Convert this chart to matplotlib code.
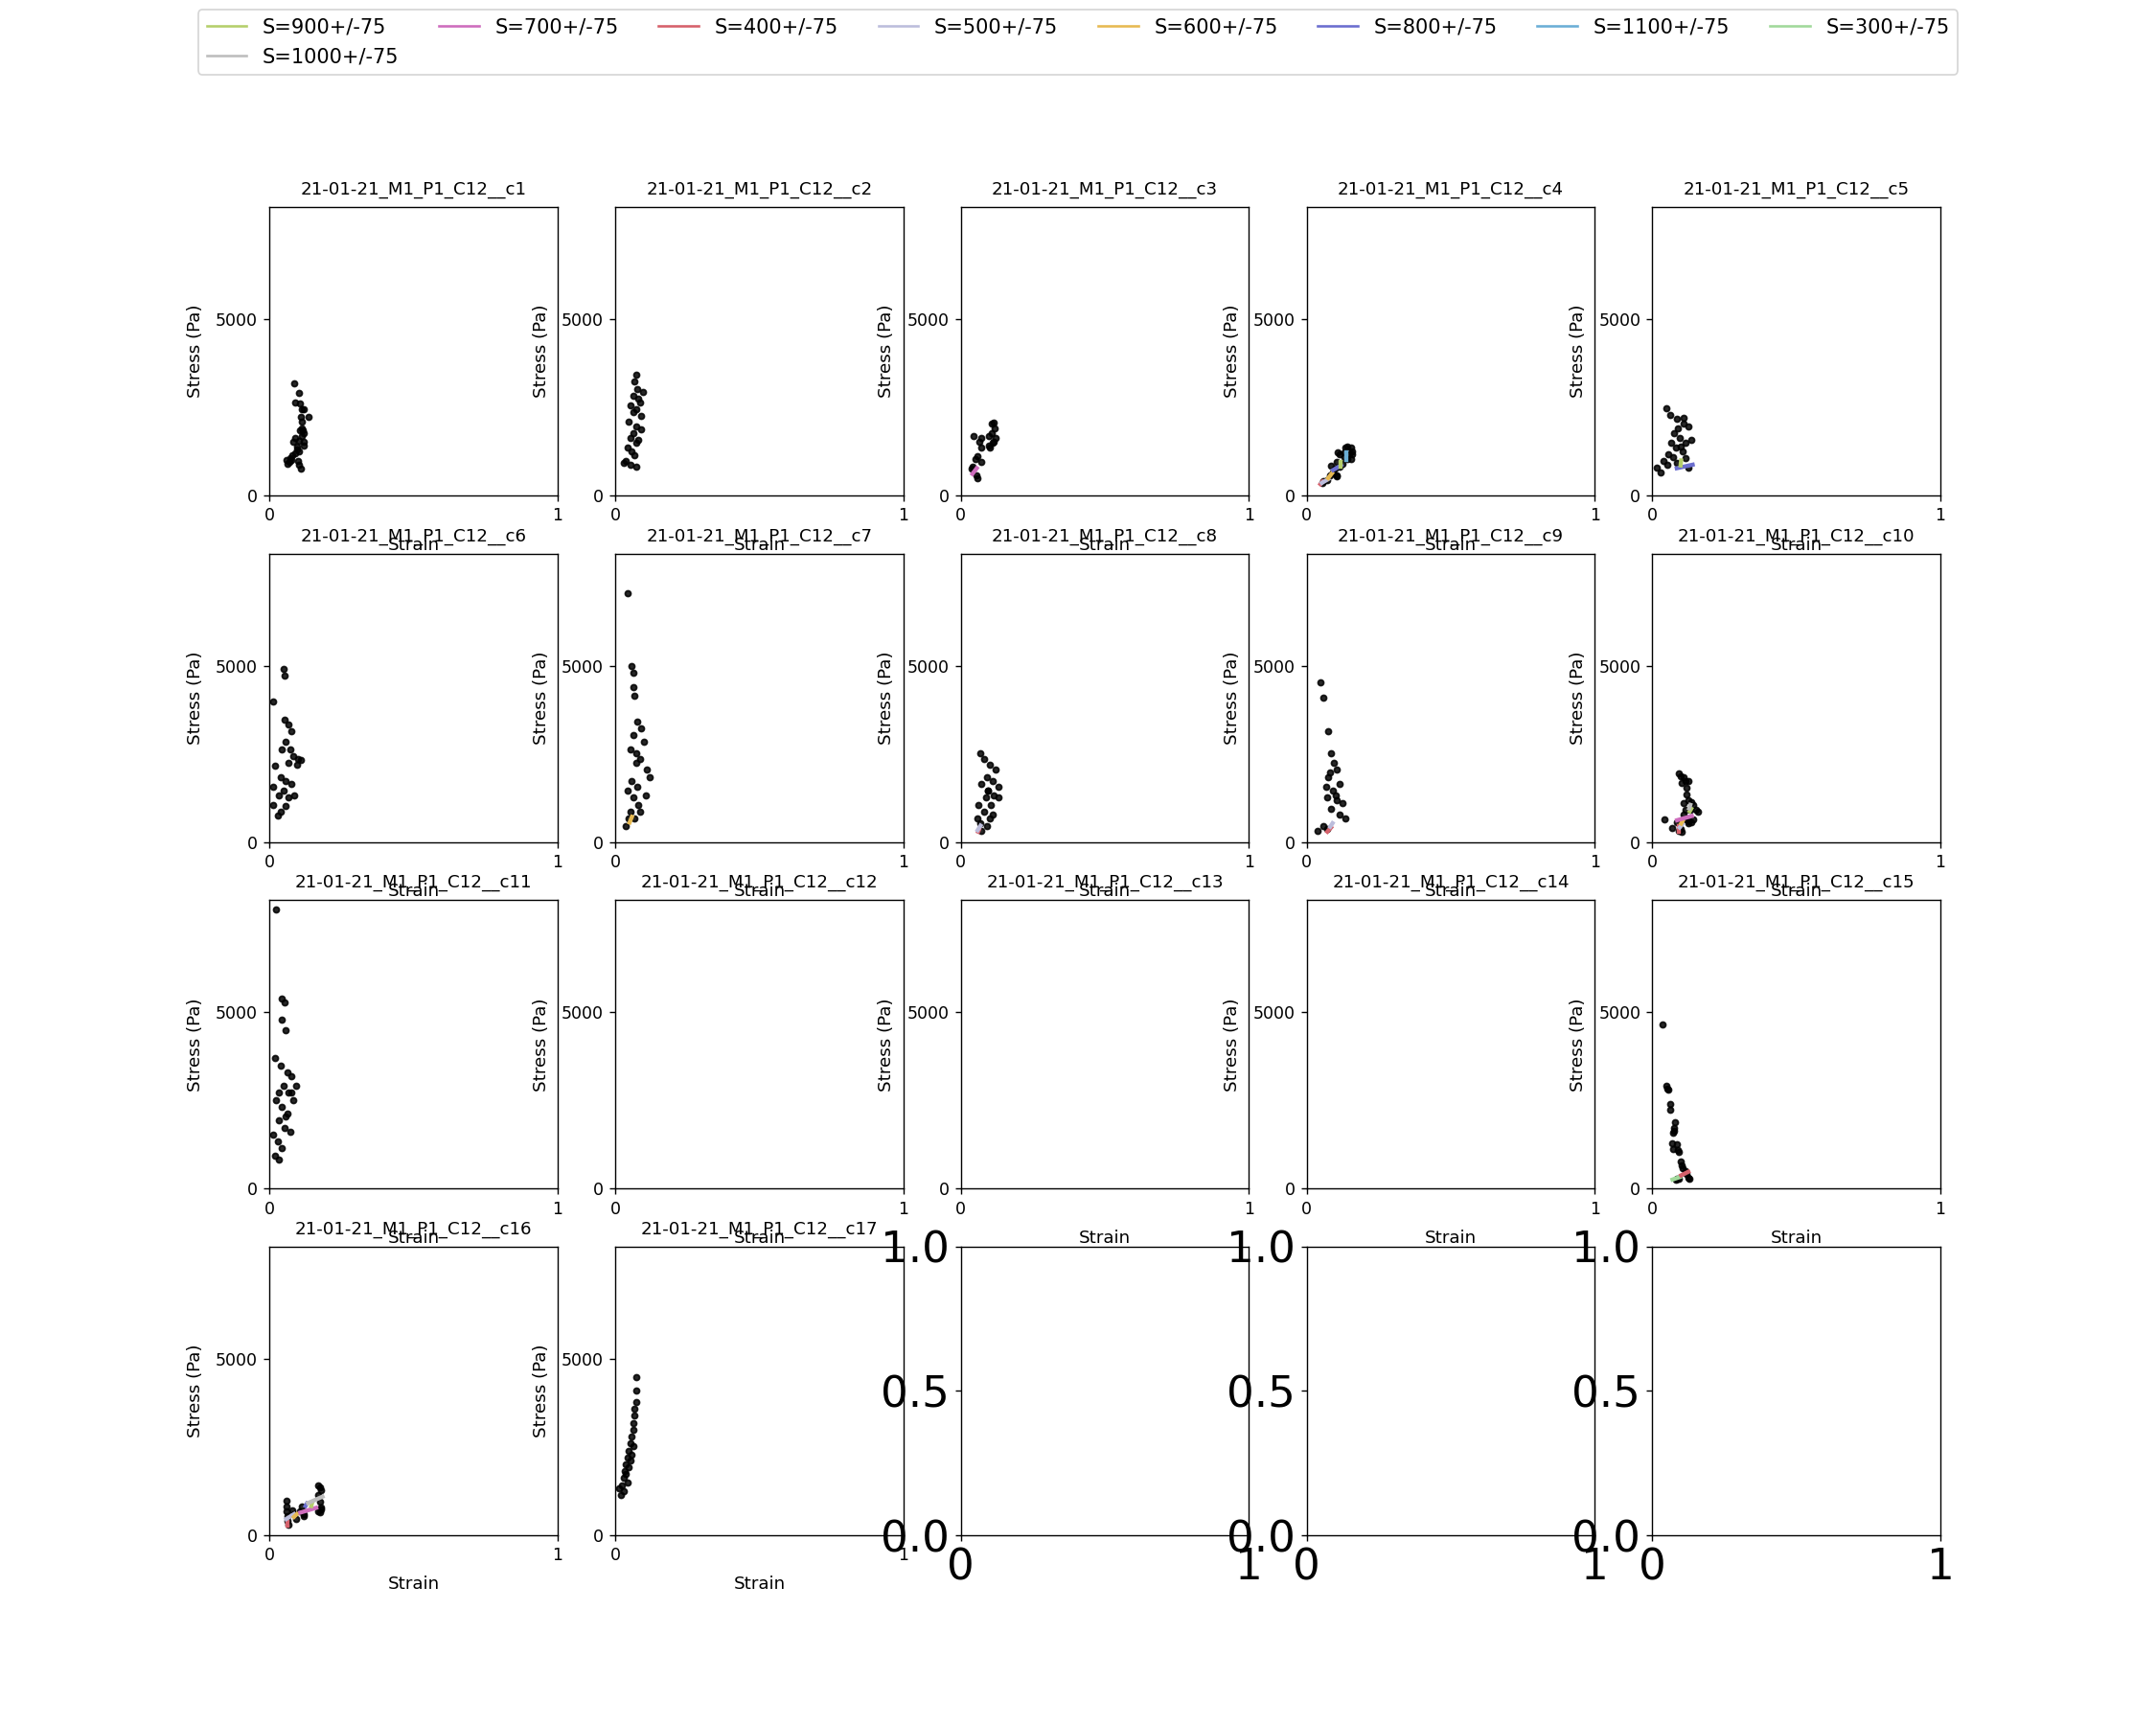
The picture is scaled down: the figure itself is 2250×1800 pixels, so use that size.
import matplotlib
matplotlib.use("Agg")
import matplotlib.pyplot as plt
from matplotlib.lines import Line2D

# stress levels used for the local fits (legend order as in the original)
levels = [900, 1000, 700, 400, 500, 600, 800, 1100, 300]
level_colors = {900: '#b5cf6b', 700: '#ce6dbd', 400: '#d6616b', 500: '#bcbddc',
                600: '#e7ba52', 800: '#6b6ecf', 1100: '#6baed6', 300: '#a1d99b',
                1000: '#bdbdbd'}

cell_names = ['21-01-21_M1_P1_C12__c%d' % i for i in range(1, 18)]

strain_c1 = [0.087, 0.101, 0.090, 0.107, 0.112, 0.120, 0.137, 0.110, 0.112, 0.104, 0.115, 0.120, 0.112, 0.090, 0.101, 0.083,
             0.118, 0.120, 0.094, 0.101, 0.090, 0.058, 0.072, 0.064, 0.075, 0.100, 0.103, 0.108, 0.080, 0.068, 0.095, 0.113]
stress_c1 = [3195, 2904, 2632, 2613, 2450, 2450, 2243, 2230, 2100, 1860, 1860, 1780, 1700, 1650, 1560, 1540,
             1530, 1410, 1390, 1250, 1200, 1000, 1080, 900, 1020, 990, 880, 770, 1150, 950, 1300, 1900]

strain_c2 = [0.072, 0.067, 0.076, 0.062, 0.081, 0.053, 0.072, 0.062, 0.090, 0.048, 0.072, 0.062, 0.053, 0.072, 0.043,
             0.057, 0.067, 0.038, 0.053, 0.072, 0.081, 0.090, 0.029, 0.086, 0.095]
stress_c2 = [3430, 3230, 3030, 2840, 2760, 2560, 2440, 2360, 2250, 2090, 1970, 1770, 1650, 1500, 1380,
             1260, 1140, 985, 870, 830, 1580, 1890, 945, 2640, 2950]

strain_c3 = [0.044, 0.071, 0.063, 0.069, 0.058, 0.052, 0.041, 0.036, 0.055, 0.058, 0.071, 0.096, 0.107, 0.113, 0.107,
             0.118, 0.122, 0.115, 0.102, 0.111, 0.096]
stress_c3 = [1697, 1634, 1517, 1362, 1135, 1045, 818, 772, 590, 500, 953, 1706, 1770, 2078, 2042,
             1906, 1634, 1525, 1362, 1498, 1408]

strain_c4 = [0.053, 0.059, 0.070, 0.081, 0.092, 0.103, 0.098, 0.086, 0.103, 0.114, 0.125, 0.114, 0.109, 0.131, 0.136,
             0.142, 0.153, 0.158, 0.147, 0.153, 0.142, 0.131, 0.158, 0.103]
stress_c4 = [364, 409, 454, 590, 653, 590, 771, 862, 952, 816, 907, 1179, 1225, 1225, 1361,
             1407, 1361, 1270, 1179, 1043, 1043, 1089, 1179, 544]

strain_c5 = [0.048, 0.062, 0.086, 0.110, 0.124, 0.076, 0.095, 0.115, 0.134, 0.081, 0.105, 0.057, 0.038, 0.014, 0.029,
             0.053, 0.086, 0.124, 0.115, 0.072, 0.090, 0.100, 0.067, 0.110]
stress_c5 = [2480, 2285, 2170, 2050, 1970, 1770, 1650, 1500, 1580, 1380, 1260, 1180, 985, 790, 670,
             870, 945, 790, 1060, 1100, 1900, 1400, 1500, 2200]

strain_c6 = [0.014, 0.048, 0.053, 0.053, 0.067, 0.076, 0.057, 0.043, 0.081, 0.100, 0.067, 0.019, 0.038, 0.057, 0.076,
             0.014, 0.048, 0.033, 0.067, 0.086, 0.014, 0.038, 0.029, 0.057, 0.095, 0.072, 0.110]
stress_c6 = [3980, 4925, 4730, 3470, 3350, 3150, 2840, 2640, 2440, 2360, 2250, 2170, 1850, 1730, 1650,
             1580, 1460, 1340, 1260, 1340, 1060, 870, 750, 1020, 2210, 2640, 2320]

strain_c7 = [0.043, 0.057, 0.062, 0.062, 0.067, 0.076, 0.091, 0.062, 0.100, 0.053, 0.072, 0.086, 0.110, 0.120, 0.057,
             0.076, 0.043, 0.062, 0.081, 0.053, 0.067, 0.086, 0.105, 0.048, 0.038, 0.072]
stress_c7 = [7050, 5000, 4800, 4410, 4140, 3430, 3230, 3030, 2840, 2640, 2520, 2360, 2050, 1850, 1730,
             1580, 1460, 1260, 1060, 870, 670, 870, 1340, 670, 470, 2250]

strain_c8 = [0.067, 0.081, 0.100, 0.120, 0.091, 0.110, 0.129, 0.072, 0.095, 0.115, 0.086, 0.062, 0.105, 0.081, 0.100,
             0.067, 0.091, 0.110, 0.129, 0.057, 0.072, 0.095]
stress_c8 = [2520, 2360, 2210, 2050, 1850, 1730, 1580, 1650, 1460, 1340, 1260, 1060, 1060, 870, 670,
             550, 470, 790, 1260, 670, 315, 1460]

strain_c9 = [0.048, 0.057, 0.076, 0.086, 0.095, 0.105, 0.076, 0.115, 0.091, 0.072, 0.105, 0.124, 0.086, 0.115, 0.134,
             0.057, 0.038, 0.072, 0.100, 0.067, 0.081]
stress_c9 = [4530, 4100, 3150, 2520, 2250, 2050, 1850, 1650, 1460, 1260, 1180, 1100, 950, 790, 670,
             470, 315, 390, 1340, 1580, 1970]

strain_c10 = [0.042, 0.070, 0.086, 0.092, 0.098, 0.103, 0.109, 0.114, 0.125, 0.120, 0.120, 0.125, 0.109, 0.136,
              0.142, 0.153, 0.158, 0.131, 0.114, 0.109, 0.114, 0.125, 0.142, 0.136, 0.125, 0.098, 0.103, 0.092]
stress_c10 = [652, 408, 562, 1965, 1875, 1694, 1857, 1739, 1739, 1558, 1350, 1196, 1105, 1150,
              1059, 923, 878, 923, 923, 797, 652, 606, 652, 562, 534, 380, 290, 335]

strain_c11 = [0.024, 0.043, 0.053, 0.043, 0.057, 0.019, 0.038, 0.062, 0.076, 0.048, 0.067, 0.024, 0.043, 0.081, 0.062,
              0.033, 0.053, 0.072, 0.014, 0.029, 0.043, 0.019, 0.033, 0.057, 0.076, 0.091, 0.033]
stress_c11 = [7920, 5400, 5280, 4800, 4490, 3700, 3500, 3310, 3190, 2920, 2720, 2520, 2320, 2520, 2130,
              1930, 1730, 1615, 1540, 1340, 1140, 945, 830, 2050, 2720, 2920, 2720]

strain_c15 = [0.034, 0.048, 0.055, 0.051, 0.061, 0.062, 0.079, 0.075, 0.073, 0.075, 0.068, 0.086, 0.073, 0.088, 0.092,
              0.098, 0.103, 0.105, 0.114, 0.120, 0.125, 0.127, 0.086, 0.081, 0.092]
stress_c15 = [4657, 2912, 2821, 2848, 2397, 2243, 1881, 1719, 1583, 1629, 1285, 1267, 1131, 1086, 1040,
              768, 651, 588, 497, 407, 316, 271, 271, 244, 289]

strain_c16 = [0.058, 0.058, 0.060, 0.061, 0.063, 0.066, 0.080, 0.085, 0.091, 0.113, 0.118, 0.168, 0.174, 0.179, 0.168,
              0.174, 0.179, 0.168, 0.174, 0.179, 0.107, 0.118]
stress_c16 = [977, 823, 687, 552, 416, 307, 705, 597, 461, 814, 588, 1411, 1366, 1275, 1140,
              959, 778, 687, 642, 733, 687, 552]

strain_c17 = [0.019, 0.024, 0.029, 0.033, 0.038, 0.043, 0.048, 0.053, 0.057, 0.062, 0.062, 0.067, 0.067, 0.072,
              0.072, 0.072, 0.014, 0.029, 0.038, 0.048, 0.043, 0.057, 0.062, 0.053]
stress_c17 = [1140, 1420, 1620, 1810, 2010, 2200, 2400, 2600, 2800, 3000, 3190, 3390, 3590, 3780,
              4100, 4490, 1340, 1260, 1730, 1930, 1500, 2280, 2520, 2130]

# local fits: (strain start, stress start, strain end, stress end, stress level)
fits_c3 = [(0.040, 620, 0.055, 780, 700)]
fits_c4 = [(0.048, 330, 0.055, 400, 400), (0.053, 364, 0.075, 473, 500), (0.075, 501, 0.088, 637, 600),
           (0.092, 729, 0.120, 865, 800), (0.118, 835, 0.118, 952, 900), (0.139, 1000, 0.139, 1225, 1100)]
fits_c5 = [(0.085, 780, 0.140, 880, 800), (0.098, 860, 0.100, 1000, 900)]
fits_c7 = [(0.050, 560, 0.058, 720, 600)]
fits_c8 = [(0.060, 300, 0.063, 360, 400), (0.058, 340, 0.068, 470, 500)]
fits_c9 = [(0.072, 300, 0.085, 420, 400), (0.082, 440, 0.090, 540, 500)]
fits_c10 = [(0.092, 470, 0.092, 290, 400), (0.095, 420, 0.105, 520, 500), (0.100, 530, 0.105, 600, 600),
            (0.086, 625, 0.137, 743, 700), (0.130, 880, 0.135, 950, 900), (0.128, 960, 0.132, 1060, 1000)]
fits_c15 = [(0.070, 260, 0.095, 330, 300), (0.100, 380, 0.125, 480, 400)]
fits_c16 = [(0.064, 370, 0.064, 260, 400), (0.058, 461, 0.085, 597, 500), (0.085, 520, 0.095, 600, 600),
            (0.107, 642, 0.162, 778, 700), (0.125, 830, 0.130, 900, 800), (0.145, 830, 0.148, 920, 900),
            (0.134, 913, 0.184, 1094, 1000)]

strains = [strain_c1, strain_c2, strain_c3, strain_c4, strain_c5, strain_c6, strain_c7, strain_c8, strain_c9,
           strain_c10, strain_c11, [], [], [], strain_c15, strain_c16, strain_c17]
stresses = [stress_c1, stress_c2, stress_c3, stress_c4, stress_c5, stress_c6, stress_c7, stress_c8, stress_c9,
            stress_c10, stress_c11, [], [], [], stress_c15, stress_c16, stress_c17]
fits = [[], [], fits_c3, fits_c4, fits_c5, [], fits_c7, fits_c8, fits_c9,
        fits_c10, [], [], [], [], fits_c15, fits_c16, []]

fig, axes = plt.subplots(4, 5, figsize=(18, 14.4), dpi=125)
axes = axes.flatten()

for i, ax in enumerate(axes):
    if i >= len(cell_names):
        ax.set_xticks([0, 1])
        ax.set_yticks([0, 0.5, 1])
        ax.tick_params(labelsize=26)
        continue
    ax.scatter(strains[i], stresses[i], s=12, c='k', alpha=0.85, zorder=2)
    for x1, y1, x2, y2, lev in fits[i]:
        ax.plot([x1, x2], [y1, y2], color=level_colors[lev], lw=2.5, zorder=3)
    ax.set_xlim(0, 1)
    ax.set_ylim(0, 8185)
    ax.set_xticks([0, 1])
    ax.set_yticks([0, 5000])
    ax.set_title(cell_names[i], fontsize=10.5, pad=7.5)
    ax.set_xlabel('Strain', fontsize=10.5, labelpad=7)
    ax.set_ylabel('Stress (Pa)', fontsize=10.5, labelpad=7)

handles = [Line2D([0], [0], color=level_colors[l], lw=1.5) for l in levels]
labels = ['S=%d+/-75' % l for l in levels]
fig.legend(handles, labels, loc='upper center', ncol=8, fontsize=12)

fig.savefig('out.png')
